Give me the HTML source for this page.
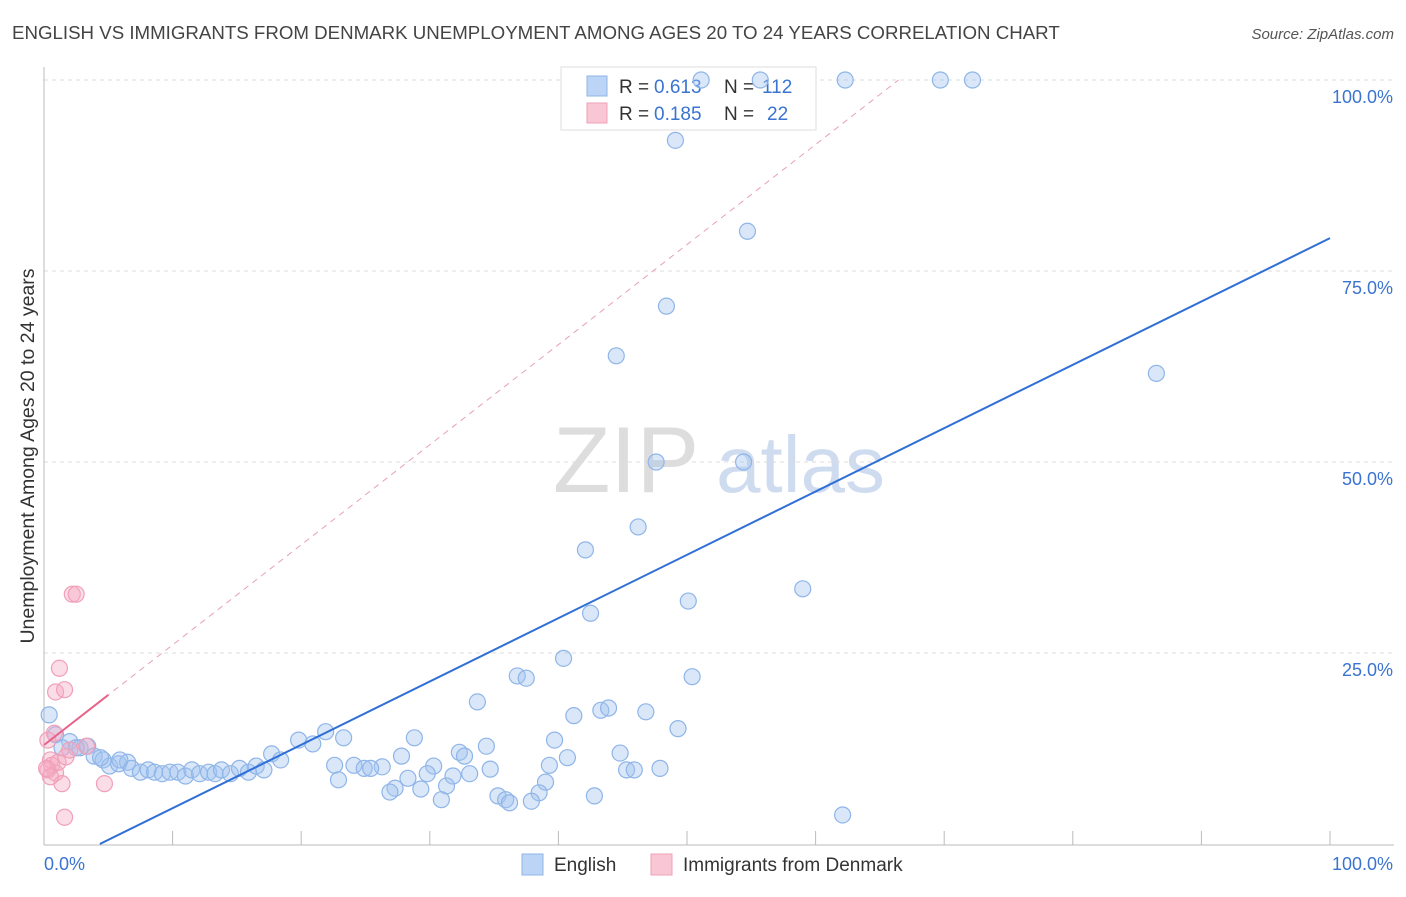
<!DOCTYPE html>
<html><head><meta charset="utf-8"><style>
body{margin:0;background:#fff;font-family:"Liberation Sans",sans-serif}
svg text{font-family:"Liberation Sans",sans-serif}
</style></head><body>
<svg id="chart" width="1406" height="892" xmlns="http://www.w3.org/2000/svg">
<text x="12" y="39" font-size="18.7" fill="#444">ENGLISH VS IMMIGRANTS FROM DENMARK UNEMPLOYMENT AMONG AGES 20 TO 24 YEARS CORRELATION CHART</text>
<text x="1394" y="39" font-size="15" fill="#555" text-anchor="end" font-style="italic">Source: ZipAtlas.com</text>
<g>
<text x="553" y="492" font-size="94" fill="#ddd" font-family="Liberation Serif">ZIP</text>
<text x="716" y="492" font-size="80" fill="#cfdcf0">atlas</text>
</g>
<g id="grid"></g>
<g id="axes"></g>
<g>
<rect x="561" y="67" width="255" height="63" fill="#fff" stroke="#ddd"/>
<rect x="587" y="76" width="20" height="20" fill="#bcd4f5" stroke="#8fb5e8"/>
<text x="619" y="93" font-size="19" fill="#333">R =</text>
<text x="654" y="93" font-size="19" fill="#3a74d0">0.613</text>
<text x="724" y="93" font-size="19" fill="#333">N =</text>
<text x="762" y="93" font-size="19" fill="#3a74d0">112</text>
<rect x="587" y="103" width="20" height="20" fill="#f9c6d5" stroke="#f0a0b8"/>
<text x="619" y="120" font-size="19" fill="#333">R =</text>
<text x="654" y="120" font-size="19" fill="#3a74d0">0.185</text>
<text x="724" y="120" font-size="19" fill="#333">N =</text>
<text x="767" y="120" font-size="19" fill="#3a74d0">22</text>
</g>
<g id="marks"></g>
<g>
<rect x="522" y="854" width="21" height="21" fill="#bcd4f5" stroke="#8fb5e8"/>
<text x="554" y="871" font-size="19" fill="#333">English</text>
<rect x="651" y="854" width="21" height="21" fill="#f9c6d5" stroke="#f0a0b8"/>
<text x="683" y="871" font-size="19" fill="#333">Immigrants from Denmark</text>
</g>
<text transform="translate(34,456) rotate(-90)" font-size="19.5" fill="#333" text-anchor="middle">Unemployment Among Ages 20 to 24 years</text>
</svg>
<script>
const yTicks=[25,50,75,100];
const yTickLabels=["25.0%","50.0%","75.0%","100.0%"];
const xTicks=[0,10,20,30,40,50,60,70,80,90,100];
const englishX=[51.1,55.7,62.3,69.7,72.2,49.1,54.7,48.4,44.5,86.5,47.6,54.4,46.2,42.1,59.0,50.1,42.5,40.4,36.8,37.5,50.4,33.7,43.3,43.9,46.8,41.2,49.3,21.9,0.4,19.8,23.3,28.8,39.7,34.4,20.9,32.3,32.7,27.8,40.7,44.8,17.7,18.4,22.6,24.1,26.3,24.9,25.4,30.3,34.7,39.3,45.3,45.9,47.9,33.1,29.8,28.3,31.8,22.9,39.0,31.3,27.3,26.9,29.3,38.5,35.3,42.8,35.9,30.9,36.2,37.9,62.1,0.9,2.0,2.8,3.4,3.9,4.6,5.1,5.8,6.5,6.8,7.5,8.1,8.6,9.2,9.8,10.4,11.0,11.5,12.1,12.8,13.3,13.8,14.5,15.2,15.9,16.5,17.1,5.9,4.4,1.4,2.5];
const englishY=[100,100,100,100,100,92.1,80.2,70.4,63.9,61.6,50.0,50.0,41.5,38.5,33.4,31.8,30.2,24.3,22.0,21.7,21.9,18.6,17.5,17.8,17.3,16.8,15.1,14.7,16.9,13.6,13.9,13.9,13.6,12.8,13.1,12.0,11.5,11.5,11.3,11.9,11.8,11.0,10.3,10.3,10.1,9.9,9.9,10.2,9.8,10.3,9.7,9.7,9.9,9.2,9.2,8.6,8.9,8.4,8.1,7.6,7.3,6.8,7.2,6.7,6.3,6.3,5.8,5.8,5.4,5.6,3.8,14.3,13.4,12.6,12.8,11.5,11.0,10.2,10.5,10.7,9.9,9.4,9.7,9.4,9.2,9.4,9.4,8.9,9.7,9.2,9.4,9.2,9.7,9.2,9.9,9.4,10.2,9.7,11.0,11.3,12.6,12.6];
const denmarkX=[0.8,0.3,0.5,0.6,0.3,0.9,1.1,1.7,2.0,3.3,0.9,1.6,1.2,2.2,2.5,1.4,4.7,1.6,0.5,0.2];
const denmarkY=[14.5,13.6,11.0,10.3,9.7,9.3,10.7,11.4,12.3,12.8,19.9,20.2,23.0,32.7,32.7,7.9,7.9,3.5,8.8,9.9];
const englishTrend=[-3.6,0.829];
const denmarkTrend=[12.96,1.31];
const NS="http://www.w3.org/2000/svg";
const X=v=>44+v*12.86, Y=v=>844-v*7.64;
function mk(tag,attrs,parent){const e=document.createElementNS(NS,tag);for(const k in attrs)e.setAttribute(k,attrs[k]);document.getElementById(parent).appendChild(e);return e;}
yTicks.forEach((t,i)=>{
 const g=mk('line',{x1:44,x2:1394,y1:Y(t),y2:Y(t),stroke:'#ddd','stroke-dasharray':'4,4'},'grid');
 
 
 const l=mk('text',{x:1393,y:Y(t)+23,'font-size':18,fill:'#3a74d0','text-anchor':'end'},'axes');l.textContent=yTickLabels[i];
 
 
});
mk('line',{x1:44,x2:44,y1:67,y2:845,stroke:'#bbb'},'axes');
mk('line',{x1:44,x2:1394,y1:845,y2:845,stroke:'#bbb'},'axes');
xTicks.forEach(t=>{const e=mk('line',{x1:X(t),x2:X(t),y1:831,y2:845,stroke:'#bbb'},'axes');
 
 });
let a=mk('text',{x:44,y:870,'font-size':18,fill:'#3a74d0'},'axes');a.textContent='0.0%';


a=mk('text',{x:1393,y:870,'font-size':18,fill:'#3a74d0','text-anchor':'end'},'axes');a.textContent='100.0%';


englishX.forEach((x,i)=>{const c=mk('circle',{cx:X(x),cy:Y(englishY[i]),r:8,fill:'rgba(160,195,240,0.4)',stroke:'#8fb5e8','stroke-width':1.2},'marks');
 
 });
denmarkX.forEach((x,i)=>{const c=mk('circle',{cx:X(x),cy:Y(denmarkY[i]),r:8,fill:'rgba(245,170,195,0.4)',stroke:'#f0a0b8','stroke-width':1.2},'marks');
 
 });
const x0=-englishTrend[0]/englishTrend[1];
let ln=mk('line',{x1:X(x0),y1:Y(0),x2:X(100),y2:Y(englishTrend[0]+englishTrend[1]*100),stroke:'#2f6fd6','stroke-width':2},'marks');


const xe=(100-denmarkTrend[0])/denmarkTrend[1];
ln=mk('line',{x1:X(0),y1:Y(denmarkTrend[0]),x2:X(xe),y2:Y(100),stroke:'#e8a0b5','stroke-width':1,'stroke-dasharray':'6,5'},'marks');


ln=mk('line',{x1:X(0),y1:Y(denmarkTrend[0]),x2:X(5),y2:Y(denmarkTrend[0]+denmarkTrend[1]*5),stroke:'#e8628a','stroke-width':2},'marks');


</script>
</body></html>
